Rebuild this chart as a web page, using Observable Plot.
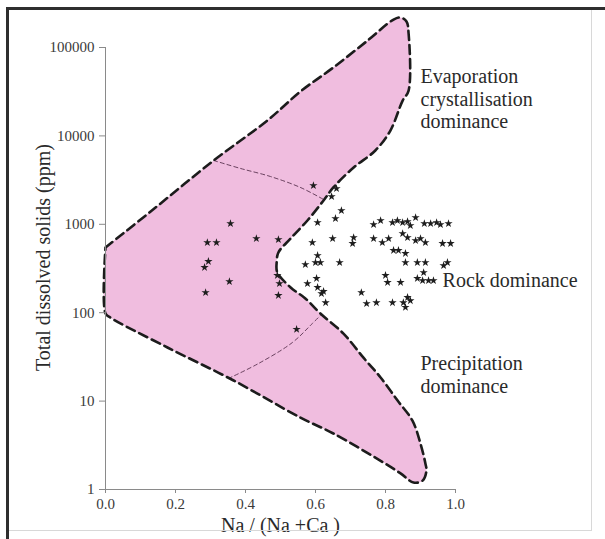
<!DOCTYPE html>
<html>
<head>
<meta charset="utf-8">
<script src="https://cdn.jsdelivr.net/npm/d3@7"></script>
<script src="https://cdn.jsdelivr.net/npm/@observablehq/plot@0.6"></script>
<style>
  html, body { margin: 0; padding: 0; background: #fff; }
  #wrap { position: relative; width: 605px; height: 539px; overflow: hidden; }
  #wrap svg { position: absolute; left: 0; top: 0; }
  .frameTL { position: absolute; left: 6px; top: 7px; width: 620px; height: 540px;
             border-left: 3px solid #2e2e2e; border-top: 3px solid #2e2e2e; box-sizing: border-box; }
  .frameR { position: absolute; left: 591px; top: 10px; width: 1px; height: 520px; background: #d8d8d8; }
  .frameB { position: absolute; left: 9px; top: 530px; width: 583px; height: 1px; background: #d8d8d8; }
</style>
</head>
<body>
<div id="wrap"></div>
<script>
// ---- data ----
const xTicks = [0, 0.2, 0.4, 0.6, 0.8, 1.0];
const yTicks = [1, 10, 100, 1000, 10000, 100000];

// Gibbs boundary (Na/(Na+Ca), TDS ppm)
const boundaryNa  = [0, .129, .309, .463, .557, .651, .749, .823, .843, .86, .866, .866, .849, .814, .771, .709, .651, .623, .577, .529, .494, .489, .491, .529, .571, .614, .68, .737, .786, .834, .877, .9, .914, .917, .906, .88, .843, .794, .651, .557, .366, .177, .014, 0, 0];
const boundaryTDS = [547, 1396, 5270, 15000, 31800, 59400, 120000, 207000, 218000, 197000, 144000, 32600, 25100, 11500, 6840, 4390, 2610, 1860, 1104, 691, 480, 370, 285, 193, 145, 98, 58, 31, 18.5, 10.2, 6.0, 3.3, 1.97, 1.64, 1.26, 1.20, 1.52, 2.02, 4.3, 6.5, 17.1, 40.4, 88, 98, 547];

const upperDivNa  = [.309, .386, .471, .557, .623];
const upperDivTDS = [5270, 4280, 3475, 2610, 1910];
const lowerDivNa  = [.351, .437, .534, .591, .614];
const lowerDivTDS = [18.0, 26.6, 46, 75.5, 93];

const sampleNa = [
  .357, .291, .317, .431, .494, .294, .283, .354, .286, .491, .497, .494, .546, .594, .66, .646,
  .674, .657, .606, .591, .649, .709, .706, .606, .6, .614, .571, .669, .577, .603, .606, .623, .617, .629, .731, .746, .774,
  .766, .786, .82, .834, .849, .863, .871, .886, .911, .929, .946, .957, .98,
  .766, .791, .809, .849, .863, .886, .9, .914, .963, .986,
  .823, .837, .857,
  .857, .891, .914, .977, .966,
  .8, .806, .843, .891, .906, .923, .937, .909,
  .82, .851, .871, .863, .857
];
const sampleTDS = [
  1021, 622, 622, 691, 673, 380, 325, 225, 169, 264, 214, 157, 65, 2748, 2541, 2062,
  1432, 1164, 1048, 622, 691, 709, 607, 444, 370, 370, 351, 370, 214, 244, 193, 174, 165, 130, 169, 127, 130,
  995, 1104, 1048, 1104, 1048, 1076, 969, 1194, 1021, 1021, 1048, 995, 1021,
  691, 622, 691, 787, 709, 656, 691, 622, 607, 607,
  506, 506, 468,
  370, 370, 370, 370, 342,
  264, 220, 220, 244, 231, 231, 231, 285,
  130, 130, 137, 149, 115
];

const regionLabels = ["Evaporation\ncrystallisation\ndominance", "Rock dominance", "Precipitation\ndominance"];
const regionLabelNa  = [0.9, 0.963, 0.9];
const regionLabelTDS = [59400, 228, 33.7];
const regionLabelAnchor = ["top", "middle", "top"];

const xLabel = "Na / (Na +Ca )";
const yLabel = "Total dissolved solids (ppm)";

// ---- build tables ----
const boundary = boundaryNa.map((x, i) => ({x, y: boundaryTDS[i]}));
const upperDiv = upperDivNa.map((x, i) => ({x, y: upperDivTDS[i]}));
const lowerDiv = lowerDivNa.map((x, i) => ({x, y: lowerDivTDS[i]}));
const samples = sampleNa.map((x, i) => ({x, y: sampleTDS[i]}));
const labels = regionLabels.map((t, i) => ({t, x: regionLabelNa[i], y: regionLabelTDS[i], a: regionLabelAnchor[i]}));

const serif = "'Liberation Serif', 'Times New Roman', 'DejaVu Serif', serif";

const chart = Plot.plot({
  width: 605,
  height: 539,
  marginLeft: 105,
  marginRight: 150,
  marginTop: 47,
  marginBottom: 50,
  style: { fontFamily: serif, background: "transparent", overflow: "visible" },
  x: { domain: [0, 1], label: null },
  y: { type: "log", domain: [1, 100000], label: null },
  marks: [
    Plot.line(boundary, { x: "x", y: "y", curve: "catmull-rom", fill: "#f0bddf", stroke: "none" }),
    Plot.line(upperDiv, { x: "x", y: "y", curve: "catmull-rom", stroke: "#5a3350", strokeWidth: 0.9, strokeDasharray: "4,3" }),
    Plot.line(lowerDiv, { x: "x", y: "y", curve: "catmull-rom", stroke: "#5a3350", strokeWidth: 0.9, strokeDasharray: "4,3" }),
    Plot.line(boundary, { x: "x", y: "y", curve: "catmull-rom", stroke: "#1c1c1c", strokeWidth: 2.6, strokeDasharray: "9,5", strokeLinejoin: "round" }),
    Plot.ruleX([0], { y1: 1, y2: 100000, stroke: "#8a8a8a", strokeWidth: 1 }),
    Plot.ruleY([1], { x1: 0, x2: 1, stroke: "#8a8a8a", strokeWidth: 1 }),
    Plot.axisY({ ticks: yTicks, tickFormat: d => String(d), tickSize: 6, tickPadding: 5, fontSize: 15, fill: "#3a3a3a", stroke: "#8a8a8a", label: null }),
    Plot.axisX({ ticks: xTicks, tickFormat: d3.format(".1f"), tickSize: 4, tickPadding: 5, fontSize: 15, fill: "#3a3a3a", stroke: "#8a8a8a", label: null }),
    Plot.dot(samples, { x: "x", y: "y", symbol: "star", r: 2.6, fill: "#1e1e1e", stroke: "none" }),
    Plot.text(labels.filter(d => d.a === "top"), { x: "x", y: "y", text: "t", textAnchor: "start", lineAnchor: "top", lineHeight: 1.12, fontSize: 20, fill: "#2a2a2a" }),
    Plot.text(labels.filter(d => d.a === "middle"), { x: "x", y: "y", text: "t", textAnchor: "start", lineAnchor: "middle", fontSize: 20, fill: "#2a2a2a" }),
    Plot.text([yLabel], { frameAnchor: "left", text: d => d, rotate: -90, dx: -56, dy: -11, textAnchor: "middle", lineAnchor: "bottom", fontSize: 20, fill: "#2a2a2a" }),
    Plot.text([xLabel], { frameAnchor: "bottom", text: d => d, dy: 42, textAnchor: "middle", lineAnchor: "bottom", fontSize: 20, fill: "#2a2a2a" })
  ]
});

const wrap = document.getElementById("wrap");
wrap.appendChild(chart);
for (const c of ["frameTL", "frameR", "frameB"]) {
  const d = document.createElement("div");
  d.className = c;
  wrap.appendChild(d);
}
</script>
</body>
</html>
